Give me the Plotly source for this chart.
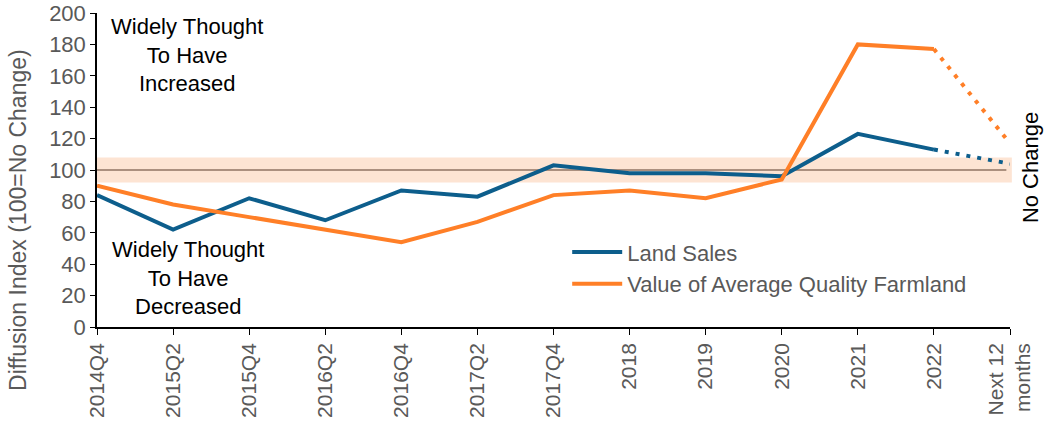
import plotly.graph_objects as go

categories = ["2014Q4", "2015Q2", "2015Q4", "2016Q2", "2016Q4", "2017Q2", "2017Q4",
              "2018", "2019", "2020", "2021", "2022", "Next 12<br>months"]
land_sales = [84, 62, 82, 68, 87, 83, 103, 98, 98, 96, 123, 113, 104]
farmland_value = [90, 78, 70, 62, 54, 67, 84, 87, 82, 94, 180, 177, 117]
band_low, band_high = 92, 108
no_change = 100
y_ticks = list(range(0, 201, 20))

blue = "#0d5e8c"
orange = "#ff7f27"
gray = "#595959"
font = "Liberation Sans, Arial, sans-serif"

xi = list(range(len(categories)))

fig = go.Figure()
fig.add_trace(go.Scatter(x=xi[:-1], y=land_sales[:-1], mode="lines", name="Land Sales",
                         line=dict(color=blue, width=4)))
fig.add_trace(go.Scatter(x=xi[:-1], y=farmland_value[:-1], mode="lines",
                         name="Value of Average Quality Farmland",
                         line=dict(color=orange, width=4)))
fig.add_trace(go.Scatter(x=xi[-2:], y=land_sales[-2:], mode="lines", showlegend=False,
                         line=dict(color=blue, width=4, dash="4px,7px")))
fig.add_trace(go.Scatter(x=xi[-2:], y=farmland_value[-2:], mode="lines", showlegend=False,
                         line=dict(color=orange, width=4, dash="4px,7px")))

fig.add_shape(type="rect", xref="paper", yref="y", x0=0, x1=1.002, y0=band_low, y1=band_high,
              fillcolor="#fde4d3", line=dict(width=0), layer="below")
fig.add_shape(type="line", xref="paper", yref="y", x0=0, x1=0.996, y0=no_change, y1=no_change,
              line=dict(color="#5a3c2c", width=1.2), layer="below")

ann_font = dict(family=font, size=22, color="black")
fig.add_annotation(x=1.18, y=173, xref="x", yref="y", showarrow=False,
                   text="Widely Thought<br>To Have<br>Increased", font=ann_font, align="center")
fig.add_annotation(x=1.2, y=31, xref="x", yref="y", showarrow=False,
                   text="Widely Thought<br>To Have<br>Decreased", font=ann_font, align="center")
fig.add_annotation(x=1.0, y=0.506, xref="paper", yref="paper", xanchor="center",
                   xshift=20, showarrow=False,
                   text="No Change", textangle=-90, font=ann_font)
fig.add_annotation(x=0, y=0.341, xref="paper", yref="paper", xanchor="center",
                   xshift=-79, showarrow=False,
                   text="Diffusion Index (100=No Change)", textangle=-90,
                   font=dict(family=font, size=23, color=gray))

fig.update_layout(
    width=1051, height=423,
    margin=dict(l=97, r=41, t=13, b=96),
    paper_bgcolor="white", plot_bgcolor="white",
    font=dict(family=font, color=gray),
    legend=dict(x=0.515, y=0.305, xanchor="left", yanchor="top",
                font=dict(family=font, size=22, color=gray),
                bgcolor="rgba(0,0,0,0)", tracegroupgap=0, itemwidth=50),
    xaxis=dict(range=[0, len(categories) - 1], tickmode="array", tickvals=xi,
               ticktext=categories, tickangle=-90, automargin=False,
               tickfont=dict(family=font, size=21, color=gray),
               showline=True, linecolor="black", linewidth=1.5,
               ticks="outside", ticklen=6, tickcolor="black",
               showgrid=False, zeroline=False),
    yaxis=dict(range=[0, 200], tickvals=y_ticks, automargin=False,
               ticklabeloverflow="allow",
               tickfont=dict(family=font, size=22, color=gray),
               showline=True, linecolor="black", linewidth=1.5,
               ticks="outside", ticklen=5, tickcolor="black",
               showgrid=False, zeroline=False),
)

fig.write_html("out.html", config={"displayModeBar": False},
               post_script="document.body.style.margin='0';")
